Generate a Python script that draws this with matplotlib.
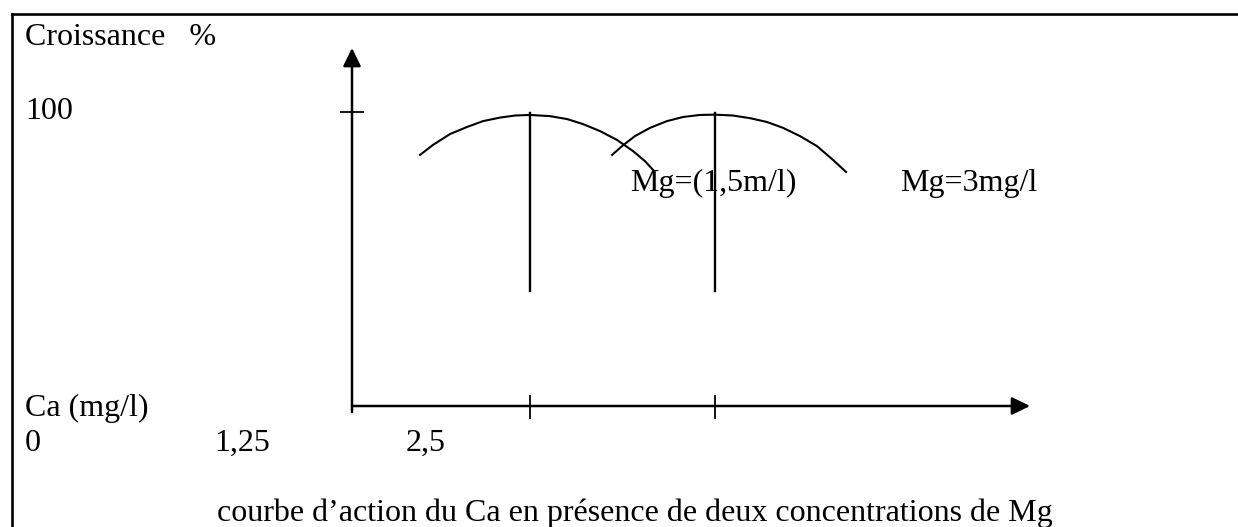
import matplotlib.pyplot as plt
from matplotlib.lines import Line2D

plt.rcParams['font.family'] = ['Liberation Serif', 'DejaVu Serif']

ca_mg15 = [0.470, 0.559, 0.677, 0.794, 0.905, 1.022, 1.126, 1.229,
           1.367, 1.485, 1.595, 1.713, 1.830, 1.941, 2.023, 2.079]
growth_mg15 = [85.4, 88.8, 92.5, 94.9, 96.9, 98.1, 98.8, 99.0,
               98.6, 97.6, 95.9, 93.5, 90.5, 86.7, 83.3, 80.3]

ca_mg3 = [1.796, 1.865, 1.954, 2.058, 2.175, 2.286, 2.403, 2.507,
          2.631, 2.749, 2.866, 2.977, 3.094, 3.211, 3.322, 3.412]
growth_mg3 = [85.4, 88.4, 91.8, 94.6, 96.9, 98.3, 99.0, 99.1,
              98.8, 97.9, 96.6, 94.6, 91.8, 88.4, 83.7, 79.6]

# optimums (traits verticaux + graduations)
opt_ca = [1.23, 2.51]
opt_low, opt_high = 39.1, 99.7
y_ticks = [100]

labels_mg = ["Mg=(1,5m/l)", "Mg=3mg/l"]
ca_labels = ["0", "1,25", "2,5"]
caption = "courbe d\u2019action du Ca en présence de deux concentrations de Mg"

# mapping pixels -> unites du schema
W, H = 1238, 527
X0, Y0 = 352, 406
SX, SY = 144.8, 2.94


def ux(px):
    return (px - X0) / SX


def uy(py):
    return (Y0 - py) / SY


fig = plt.figure(figsize=(W / 100, H / 100), dpi=100)
ax = fig.add_axes([0, 0, 1, 1])
ax.set_xlim(ux(0), ux(W))
ax.set_ylim(uy(H), uy(0))
ax.axis('off')

# cadre (haut + gauche)
fig.add_artist(Line2D([11.5 / W, 11.5 / W], [0, 1 - 14 / H], color='black', lw=1.9))
fig.add_artist(Line2D([11.5 / W, 1], [1 - 14 / H, 1 - 14 / H], color='black', lw=1.9))

# axes avec fleches
arrow = dict(arrowstyle='-|>,head_length=0.55,head_width=0.27', color='black',
             lw=1.8, mutation_scale=20, shrinkA=0, shrinkB=0)
ax.annotate('', xy=(0, uy(48)), xytext=(0, uy(412)), arrowprops=arrow)
ax.annotate('', xy=(ux(1030), 0), xytext=(0, 0), arrowprops=arrow)

# graduations
for c in opt_ca:
    ax.plot([c, c], [uy(396), uy(418)], color='black', lw=1.3)
for t in y_ticks:
    ax.plot([ux(341), ux(363)], [t, t], color='black', lw=1.3)

# courbes
ax.plot(ca_mg15, growth_mg15, color='black', lw=1.5)
ax.plot(ca_mg3, growth_mg3, color='black', lw=1.5)
for c in opt_ca:
    ax.plot([c, c], [opt_low, opt_high], color='black', lw=1.7)

fs = 23
ax.text(ux(25), uy(45), "Croissance   %", fontsize=fs, va='baseline')
ax.text(ux(25), uy(119), "100", fontsize=fs, va='baseline')
ax.text(ux(630), uy(191), labels_mg[0], fontsize=fs, va='baseline')
ax.text(ux(900), uy(191), labels_mg[1], fontsize=fs, va='baseline')
ax.text(ux(25), uy(416), "Ca (mg/l)", fontsize=fs, va='baseline')
for lab, px in zip(ca_labels, [25, 214, 406]):
    ax.text(ux(px), uy(451), lab, fontsize=fs, va='baseline')
ax.text(ux(217), uy(521), caption, fontsize=fs, va='baseline')

fig.savefig('out.png', dpi=100)
